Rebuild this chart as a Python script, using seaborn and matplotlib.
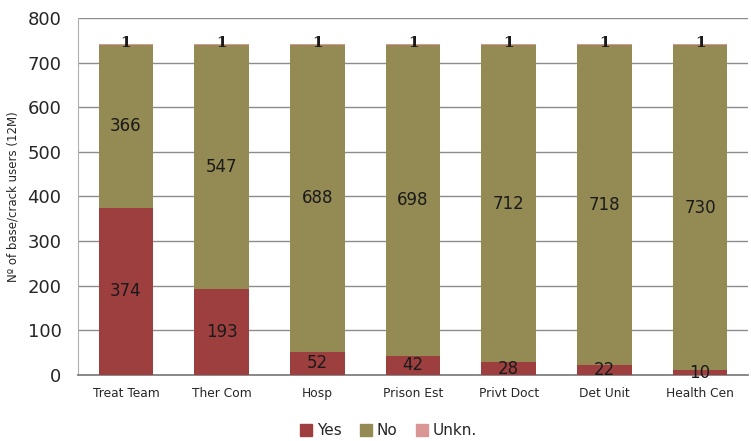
import matplotlib
matplotlib.use("Agg")
import matplotlib.pyplot as plt
import seaborn as sns
import pandas as pd
import numpy as np
from matplotlib.patches import Patch
from matplotlib.ticker import FixedLocator

categories = ["Treat Team", "Ther Com", "Hosp", "Prison Est", "Privt Doct", "Det Unit", "Health Cen"]
yes_vals = [374, 193, 52, 42, 28, 22, 10]
no_vals = [366, 547, 688, 698, 712, 718, 730]
unk_vals = [1, 1, 1, 1, 1, 1, 1]
y_ticks = [0, 100, 200, 300, 400, 500, 600, 700, 800]

c_yes = "#9E3F3F"
c_no = "#948A54"
c_unk = "#D99694"

sns.set_style("white")
fig = plt.figure(figsize=(7.51, 4.41), dpi=100)
ax = fig.add_axes([0.104, 0.150, 0.892, 0.809])

df = pd.DataFrame({"cat": categories, "yes": yes_vals, "no": no_vals, "unk": unk_vals})
df["c1"] = df["yes"]
df["c2"] = df["yes"] + df["no"]
df["c3"] = df["c2"] + df["unk"]

for col, colr in [("c3", c_unk), ("c2", c_no), ("c1", c_yes)]:
    sns.barplot(data=df, x="cat", y=col, color=colr, width=0.57, ax=ax,
                saturation=1, linewidth=0, zorder=3)

for i, row in df.iterrows():
    ax.text(i, row["yes"] / 2, f"{row['yes']}", ha="center", va="center",
            fontsize=12, color="#1a1a1a", zorder=5)
    ax.text(i, row["yes"] + row["no"] / 2, f"{row['no']}", ha="center", va="center",
            fontsize=12, color="#1a1a1a", zorder=5)
    ax.text(i, row["c2"] + row["unk"] / 2 + 4, f"{row['unk']}", ha="center", va="center",
            fontsize=11, fontweight="bold", family="DejaVu Serif", color="#1a1a1a", zorder=5)

ax.set_ylim(0, 800)
ax.set_xlim(-0.5, len(categories) - 0.5)
ax.set_yticks(y_ticks)
ax.set_yticklabels([str(t) for t in y_ticks], fontsize=13)
ax.yaxis.grid(True, color="#8c8c8c", linewidth=1, zorder=0)
ax.set_axisbelow(True)
ax.tick_params(axis="y", direction="out", length=6, color="#8c8c8c", pad=6)
ax.tick_params(axis="x", which="major", length=0, labelsize=8.8, pad=9)
ax.xaxis.set_minor_locator(FixedLocator(np.arange(-0.5, len(categories), 1.0)))
ax.tick_params(axis="x", which="minor", direction="out", length=5, color="#8c8c8c")
ax.set_xlabel("")
ax.set_ylabel("Nº of base/crack users (12M)", fontsize=8.5, labelpad=6)

for s in ["top", "right"]:
    ax.spines[s].set_visible(False)
ax.spines["left"].set_color("#b0b0b0")
ax.spines["bottom"].set_color("#808080")
ax.spines["bottom"].set_linewidth(1.3)

handles = [Patch(color=c_yes, label="Yes"), Patch(color=c_no, label="No"), Patch(color=c_unk, label="Unkn.")]
fig.legend(handles=handles, loc="lower center", bbox_to_anchor=(0.517, -0.025), ncol=3,
           frameon=False, fontsize=11, handlelength=0.8, handleheight=0.8,
           handletextpad=0.3, columnspacing=1.2)

fig.savefig("out.png", dpi=100)
